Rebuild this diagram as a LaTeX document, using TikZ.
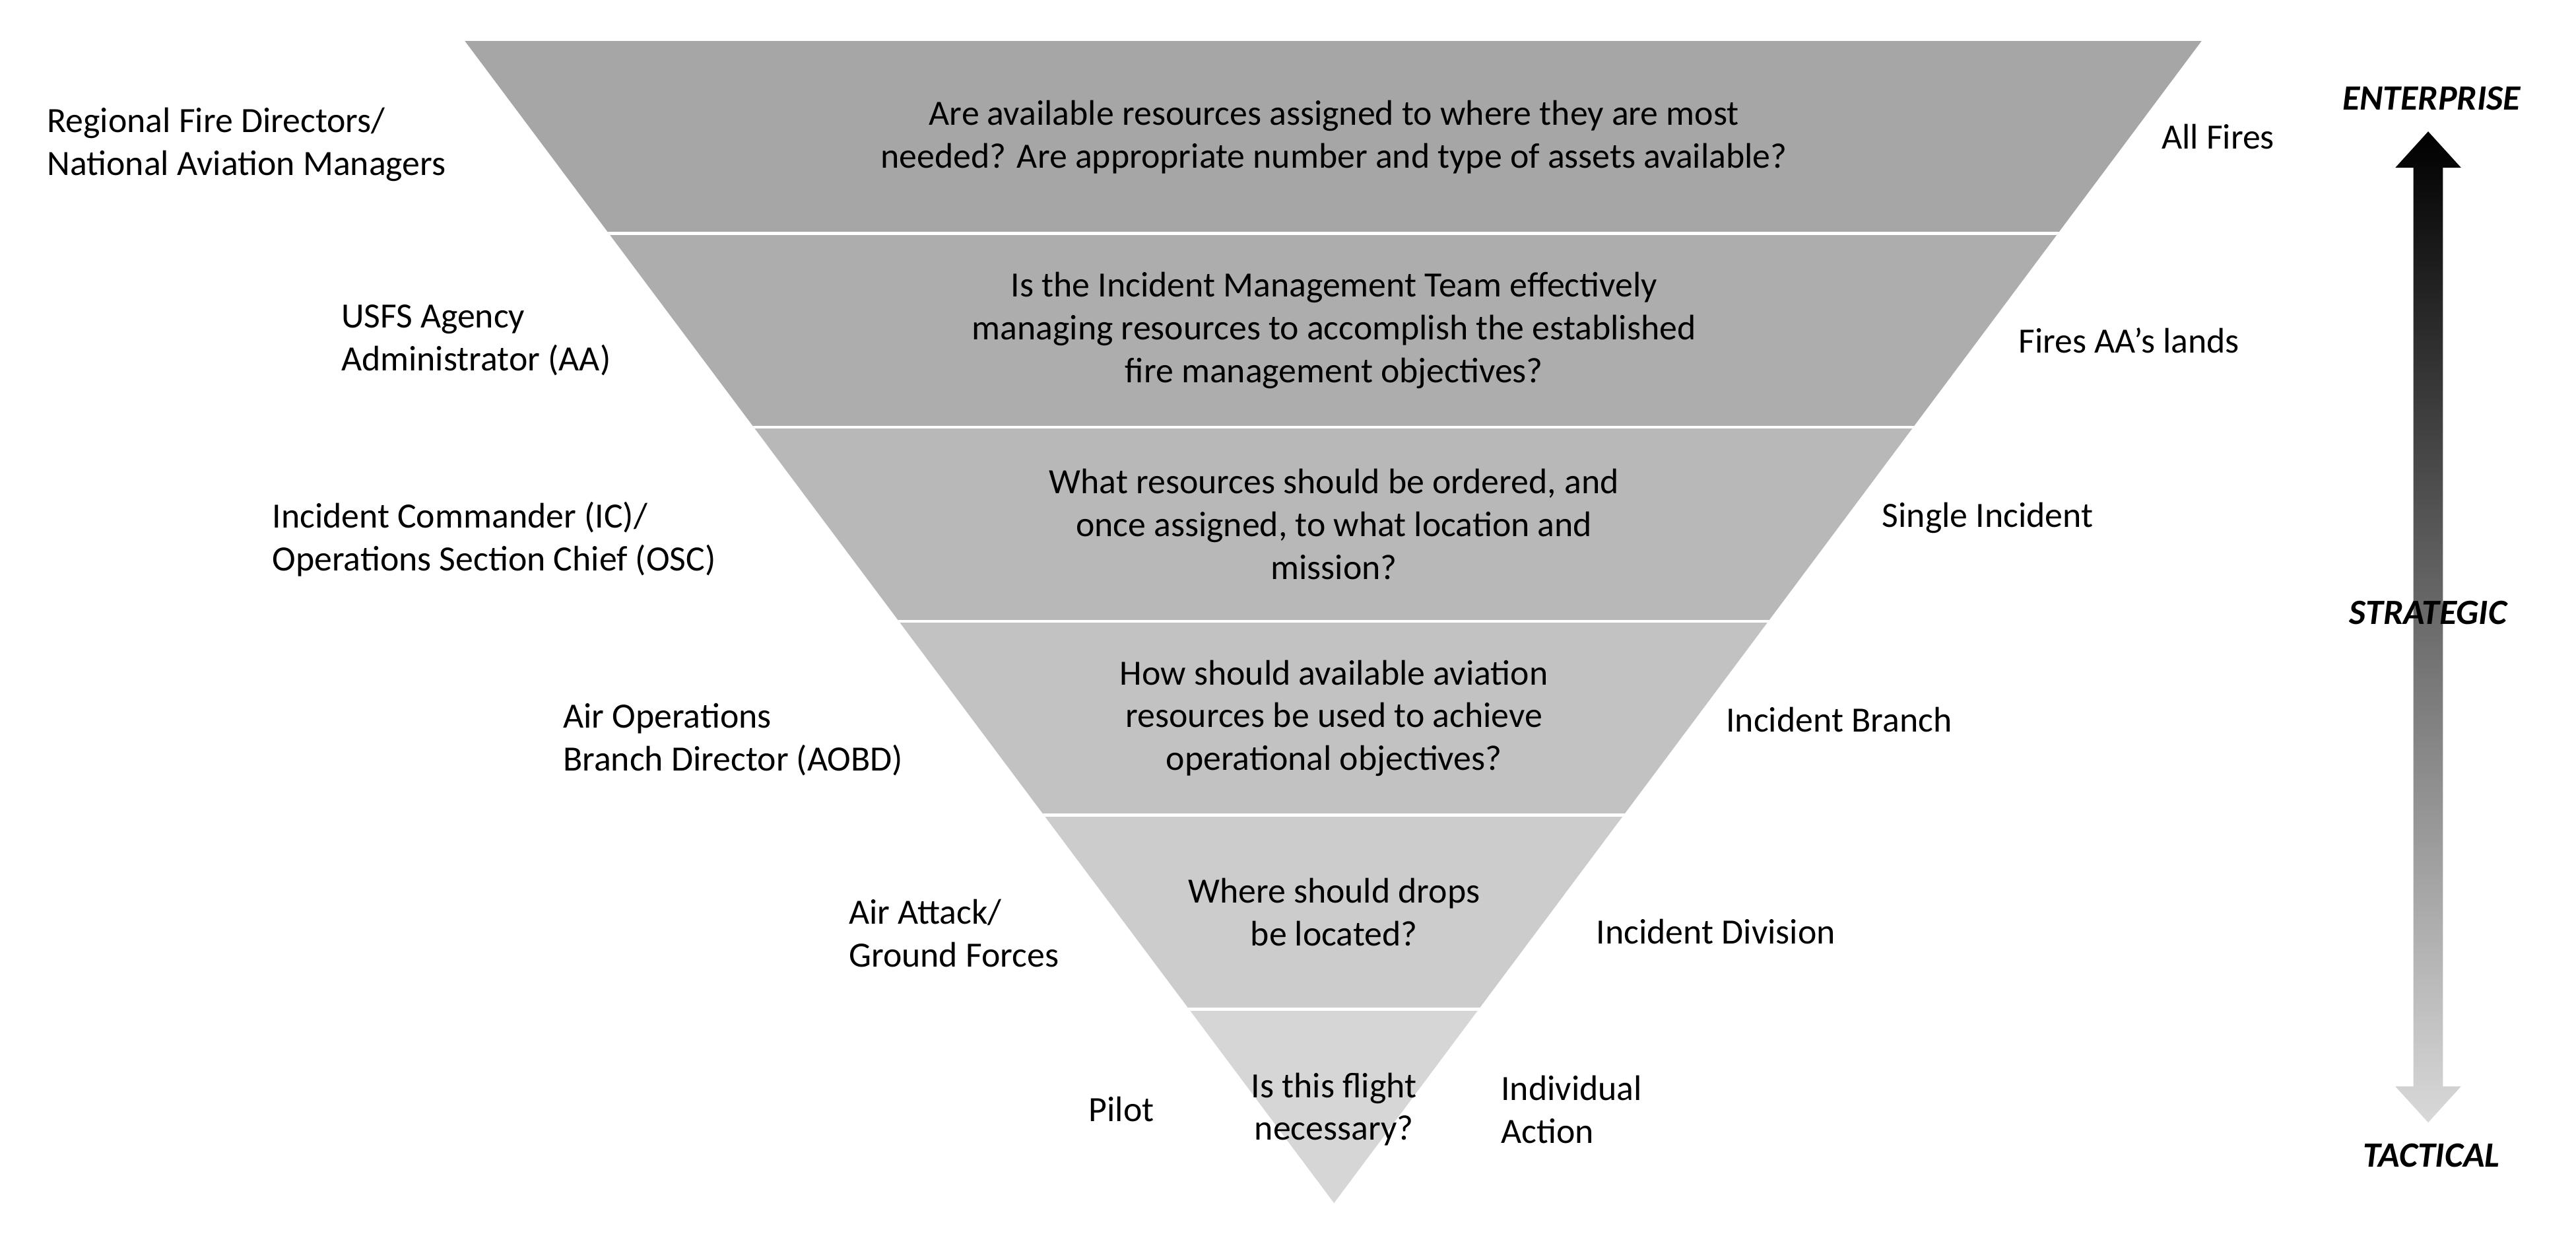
\documentclass[tikz,border=0pt]{standalone}
\usepackage{fontspec}
\setmainfont{Carlito}
\begin{document}
\begin{tikzpicture}[
		band/.style={align=center, font=\fontsize{12.3}{14.8}\selectfont},
		role/.style={anchor=west, align=left, font=\fontsize{12.3}{14.8}\selectfont},
		scope/.style={anchor=west, align=left, font=\fontsize{12.3}{14.8}\selectfont},
		level/.style={font=\fontsize{12.3}{14.8}\selectfont\bfseries\itshape}
	]
	\useasboundingbox (0,0) rectangle (31.36,-15.04);

	% Inverted pyramid
	\coordinate (tl) at (5.66,-0.5);
	\coordinate (tr) at (26.8,-0.5);
	\coordinate (apex) at (16.24,-14.64);
	\begin{scope}
		\clip (tl) -- (tr) -- (apex) -- cycle;
		\fill[black!35] (5,-0.5) rectangle (28,-2.84);
		\fill[black!32] (5,-2.84) rectangle (28,-5.2);
		\fill[black!28] (5,-5.2) rectangle (28,-7.56);
		\fill[black!24] (5,-7.56) rectangle (28,-9.92);
		\fill[black!20] (5,-9.92) rectangle (28,-12.28);
		\fill[black!16] (5,-12.28) rectangle (28,-15);
		\foreach \y in {-2.84,-5.2,-7.56,-9.92,-12.28}
			\draw[white, line width=1pt] (5,\y) -- (28,\y);
	\end{scope}

	% Questions
	\node[band] (q1) at (16.24,-1.67) {Are available resources assigned to where they are most\\needed? Are appropriate number and type of assets available?};
	\node[band] (q2) at (16.24,-4.02) {Is the Incident Management Team effectively\\managing resources to accomplish the established\\fire management objectives?};
	\node[band] (q3) at (16.24,-6.38) {What resources should be ordered, and\\once assigned, to what location and\\mission?};
	\node[band] (q4) at (16.24,-8.74) {How should available aviation\\resources be used to achieve\\operational objectives?};
	\node[band] (q5) at (16.24,-11.1) {Where should drops\\be located?};
	\node[band] (q6) at (16.24,-13.5) {Is this flight\\necessary?};

	% Roles
	\node[role] (r1) at (0.45,-1.76) {Regional Fire Directors/\\National Aviation Managers};
	\node[role] (r2) at (4.03,-4.14) {USFS Agency\\Administrator (AA)};
	\node[role] (r3) at (3.19,-6.56) {Incident Commander (IC)/\\Operations Section Chief (OSC)};
	\node[role] (r4) at (6.73,-9.0) {Air Operations\\Branch Director (AOBD)};
	\node[role] (r5) at (10.21,-11.36) {Air Attack/\\Ground Forces};
	\node[role] (r6) at (13.13,-13.5) {Pilot};

	% Scopes
	\node[scope] (s1) at (26.19,-1.66) {All Fires};
	\node[scope] (s2) at (24.45,-4.14) {Fires AA’s lands};
	\node[scope] (s3) at (22.79,-6.3) {Single Incident};
	\node[scope] (s4) at (20.89,-8.76) {Incident Branch};
	\node[scope] (s5) at (19.31,-11.34) {Incident Division};
	\node[scope] (s6) at (18.15,-13.5) {Individual\\Action};

	% Scale arrow
	\shade[top color=black, bottom color=black!15]
		(29.56,-1.6) -- (29.96,-2.04) -- (29.74,-2.04) -- (29.74,-13.22) -- (29.96,-13.22)
		-- (29.56,-13.66) -- (29.16,-13.22) -- (29.38,-13.22) -- (29.38,-2.04) -- (29.16,-2.04) -- cycle;
	\node[level] (ent) at (29.6,-1.2) {ENTERPRISE};
	\node[level] (str) at (29.56,-7.46) {STRATEGIC};
	\node[level] (tac) at (29.6,-14.06) {TACTICAL};
\end{tikzpicture}
\end{document}
